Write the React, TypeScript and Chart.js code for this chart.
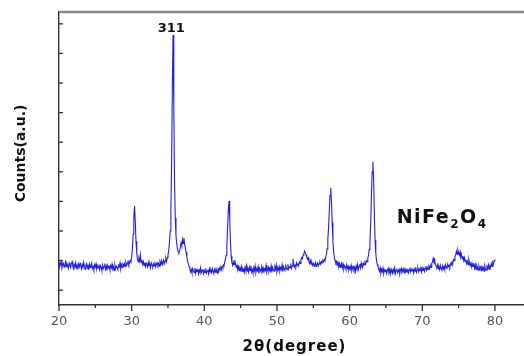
import { useEffect, useRef } from 'react';
import { Chart, registerables } from 'chart.js';

Chart.register(...registerables);

// 2θ positions (degree) of the scan, one row per degree
const twoTheta: number[] = [
  20.0, 20.1, 20.2, 20.3, 20.4, 20.5, 20.6, 20.7, 20.8, 20.9,
  21.0, 21.1, 21.2, 21.3, 21.4, 21.5, 21.6, 21.7, 21.8, 21.9,
  22.0, 22.1, 22.2, 22.3, 22.4, 22.5, 22.6, 22.7, 22.8, 22.9,
  23.0, 23.1, 23.2, 23.3, 23.4, 23.5, 23.6, 23.7, 23.8, 23.9,
  24.0, 24.1, 24.2, 24.3, 24.4, 24.5, 24.6, 24.7, 24.8, 24.9,
  25.0, 25.1, 25.2, 25.3, 25.4, 25.5, 25.6, 25.7, 25.8, 25.9,
  26.0, 26.1, 26.2, 26.3, 26.4, 26.5, 26.6, 26.7, 26.8, 26.9,
  27.0, 27.1, 27.2, 27.3, 27.4, 27.5, 27.6, 27.7, 27.8, 27.9,
  28.0, 28.1, 28.2, 28.3, 28.4, 28.5, 28.6, 28.7, 28.8, 28.9,
  29.0, 29.1, 29.2, 29.3, 29.4, 29.5, 29.6, 29.7, 29.8, 29.9,
  30.0, 30.1, 30.2, 30.3, 30.4, 30.5, 30.6, 30.7, 30.8, 30.9,
  31.0, 31.1, 31.2, 31.3, 31.4, 31.5, 31.6, 31.7, 31.8, 31.9,
  32.0, 32.1, 32.2, 32.3, 32.4, 32.5, 32.6, 32.7, 32.8, 32.9,
  33.0, 33.1, 33.2, 33.3, 33.4, 33.5, 33.6, 33.7, 33.8, 33.9,
  34.0, 34.1, 34.2, 34.3, 34.4, 34.5, 34.6, 34.7, 34.8, 34.9,
  35.0, 35.1, 35.2, 35.3, 35.4, 35.5, 35.6, 35.7, 35.8, 35.9,
  36.0, 36.1, 36.2, 36.3, 36.4, 36.5, 36.6, 36.7, 36.8, 36.9,
  37.0, 37.1, 37.2, 37.3, 37.4, 37.5, 37.6, 37.7, 37.8, 37.9,
  38.0, 38.1, 38.2, 38.3, 38.4, 38.5, 38.6, 38.7, 38.8, 38.9,
  39.0, 39.1, 39.2, 39.3, 39.4, 39.5, 39.6, 39.7, 39.8, 39.9,
  40.0, 40.1, 40.2, 40.3, 40.4, 40.5, 40.6, 40.7, 40.8, 40.9,
  41.0, 41.1, 41.2, 41.3, 41.4, 41.5, 41.6, 41.7, 41.8, 41.9,
  42.0, 42.1, 42.2, 42.3, 42.4, 42.5, 42.6, 42.7, 42.8, 42.9,
  43.0, 43.1, 43.2, 43.3, 43.4, 43.5, 43.6, 43.7, 43.8, 43.9,
  44.0, 44.1, 44.2, 44.3, 44.4, 44.5, 44.6, 44.7, 44.8, 44.9,
  45.0, 45.1, 45.2, 45.3, 45.4, 45.5, 45.6, 45.7, 45.8, 45.9,
  46.0, 46.1, 46.2, 46.3, 46.4, 46.5, 46.6, 46.7, 46.8, 46.9,
  47.0, 47.1, 47.2, 47.3, 47.4, 47.5, 47.6, 47.7, 47.8, 47.9,
  48.0, 48.1, 48.2, 48.3, 48.4, 48.5, 48.6, 48.7, 48.8, 48.9,
  49.0, 49.1, 49.2, 49.3, 49.4, 49.5, 49.6, 49.7, 49.8, 49.9,
  50.0, 50.1, 50.2, 50.3, 50.4, 50.5, 50.6, 50.7, 50.8, 50.9,
  51.0, 51.1, 51.2, 51.3, 51.4, 51.5, 51.6, 51.7, 51.8, 51.9,
  52.0, 52.1, 52.2, 52.3, 52.4, 52.5, 52.6, 52.7, 52.8, 52.9,
  53.0, 53.1, 53.2, 53.3, 53.4, 53.5, 53.6, 53.7, 53.8, 53.9,
  54.0, 54.1, 54.2, 54.3, 54.4, 54.5, 54.6, 54.7, 54.8, 54.9,
  55.0, 55.1, 55.2, 55.3, 55.4, 55.5, 55.6, 55.7, 55.8, 55.9,
  56.0, 56.1, 56.2, 56.3, 56.4, 56.5, 56.6, 56.7, 56.8, 56.9,
  57.0, 57.1, 57.2, 57.3, 57.4, 57.5, 57.6, 57.7, 57.8, 57.9,
  58.0, 58.1, 58.2, 58.3, 58.4, 58.5, 58.6, 58.7, 58.8, 58.9,
  59.0, 59.1, 59.2, 59.3, 59.4, 59.5, 59.6, 59.7, 59.8, 59.9,
  60.0, 60.1, 60.2, 60.3, 60.4, 60.5, 60.6, 60.7, 60.8, 60.9,
  61.0, 61.1, 61.2, 61.3, 61.4, 61.5, 61.6, 61.7, 61.8, 61.9,
  62.0, 62.1, 62.2, 62.3, 62.4, 62.5, 62.6, 62.7, 62.8, 62.9,
  63.0, 63.1, 63.2, 63.3, 63.4, 63.5, 63.6, 63.7, 63.8, 63.9,
  64.0, 64.1, 64.2, 64.3, 64.4, 64.5, 64.6, 64.7, 64.8, 64.9,
  65.0, 65.1, 65.2, 65.3, 65.4, 65.5, 65.6, 65.7, 65.8, 65.9,
  66.0, 66.1, 66.2, 66.3, 66.4, 66.5, 66.6, 66.7, 66.8, 66.9,
  67.0, 67.1, 67.2, 67.3, 67.4, 67.5, 67.6, 67.7, 67.8, 67.9,
  68.0, 68.1, 68.2, 68.3, 68.4, 68.5, 68.6, 68.7, 68.8, 68.9,
  69.0, 69.1, 69.2, 69.3, 69.4, 69.5, 69.6, 69.7, 69.8, 69.9,
  70.0, 70.1, 70.2, 70.3, 70.4, 70.5, 70.6, 70.7, 70.8, 70.9,
  71.0, 71.1, 71.2, 71.3, 71.4, 71.5, 71.6, 71.7, 71.8, 71.9,
  72.0, 72.1, 72.2, 72.3, 72.4, 72.5, 72.6, 72.7, 72.8, 72.9,
  73.0, 73.1, 73.2, 73.3, 73.4, 73.5, 73.6, 73.7, 73.8, 73.9,
  74.0, 74.1, 74.2, 74.3, 74.4, 74.5, 74.6, 74.7, 74.8, 74.9,
  75.0, 75.1, 75.2, 75.3, 75.4, 75.5, 75.6, 75.7, 75.8, 75.9,
  76.0, 76.1, 76.2, 76.3, 76.4, 76.5, 76.6, 76.7, 76.8, 76.9,
  77.0, 77.1, 77.2, 77.3, 77.4, 77.5, 77.6, 77.7, 77.8, 77.9,
  78.0, 78.1, 78.2, 78.3, 78.4, 78.5, 78.6, 78.7, 78.8, 78.9,
  79.0, 79.1, 79.2, 79.3, 79.4, 79.5, 79.6, 79.7, 79.8, 79.9,
  80.0,
];

// Intensity (arbitrary units), one value per 2θ position above
const counts: number[] = [
  94, 80, 88, 97, 76, 86, 91, 78, 84, 95,
  79, 90, 83, 74, 92, 85, 77, 89, 96, 81,
  73, 87, 82, 93, 76, 84, 70, 88, 79, 91,
  84, 72, 86, 78, 94, 80, 71, 85, 90, 76,
  83, 69, 88, 77, 82, 91, 74, 80, 68, 86,
  78, 89, 72, 81, 75, 87, 70, 83, 77, 66,
  85, 73, 79, 90, 71, 82, 67, 84, 76, 80,
  69, 83, 75, 88, 72, 78, 66, 86, 74, 81,
  77, 70, 84, 79, 92, 73, 85, 78, 88, 82,
  90, 79, 94, 84, 88, 97, 86, 92, 100, 95,
  112, 140, 190, 250, 284, 230, 165, 125, 104, 96,
  108, 98, 120, 94, 102, 88, 97, 84, 93, 80,
  91, 86, 78, 94, 83, 88, 76, 92, 85, 80,
  89, 82, 95, 79, 87, 93, 84, 90, 81, 96,
  88, 99, 85, 94, 102, 90, 98, 107, 96, 110,
  118, 135, 160, 200, 270, 430, 690, 862, 620, 370,
  245, 185, 158, 140, 130, 126, 132, 145, 160, 150,
  172, 158, 176, 155, 142, 128, 112, 98, 88, 80,
  74, 62, 70, 58, 73, 66, 60, 75, 57, 69,
  63, 72, 55, 68, 61, 76, 59, 66, 71, 56,
  67, 60, 74, 58, 65, 70, 55, 72, 62, 68,
  59, 73, 64, 57, 70, 61, 76, 63, 58, 72,
  66, 75, 69, 80, 72, 78, 85, 82, 94, 104,
  118, 150, 210, 270, 301, 240, 160, 115, 92, 84,
  95, 86, 102, 88, 78, 84, 70, 79, 66, 75,
  68, 80, 63, 74, 70, 60, 77, 66, 82, 64,
  72, 61, 78, 67, 83, 62, 70, 58, 76, 65,
  81, 60, 71, 66, 79, 57, 74, 68, 62, 80,
  64, 75, 59, 72, 67, 84, 61, 70, 78, 63,
  73, 66, 82, 60, 77, 69, 64, 79, 71, 85,
  62, 74, 68, 80, 65, 76, 70, 86, 63, 78,
  71, 67, 83, 74, 69, 88, 72, 79, 76, 90,
  74, 82, 106, 88, 78, 85, 80, 92, 84, 88,
  86, 95, 90, 102, 110, 106, 118, 124, 132, 126,
  120, 112, 104, 110, 98, 92, 100, 88, 94, 84,
  90, 81, 87, 94, 80, 86, 92, 83, 89, 95,
  88, 97, 92, 100, 96, 104, 99, 112, 120, 140,
  170, 210, 270, 320, 345, 300, 230, 165, 130, 110,
  100, 92, 97, 86, 94, 80, 90, 77, 85, 92,
  76, 88, 72, 83, 79, 70, 86, 74, 81, 68,
  78, 71, 84, 66, 75, 80, 69, 77, 64, 82,
  72, 86, 70, 80, 88, 75, 92, 82, 78, 90,
  86, 94, 88, 100, 96, 108, 118, 138, 165, 225,
  320, 400, 433, 380, 260, 170, 125, 100, 88, 80,
  72, 64, 76, 58, 70, 62, 74, 57, 68, 63,
  71, 56, 66, 74, 60, 69, 55, 72, 63, 58,
  70, 61, 75, 57, 67, 73, 59, 64, 71, 56,
  68, 74, 60, 66, 72, 58, 76, 63, 69, 61,
  73, 59, 67, 77, 62, 70, 65, 74, 58, 71,
  64, 78, 61, 69, 75, 63, 72, 66, 80, 62,
  74, 67, 79, 64, 72, 82, 68, 76, 70, 80,
  73, 84, 77, 90, 96, 108, 98, 104, 88, 82,
  78, 86, 72, 80, 70, 84, 74, 68, 82, 72,
  80, 70, 86, 76, 74, 88, 79, 84, 78, 90,
  86, 96, 92, 104, 100, 114, 120, 132, 122, 136,
  126, 118, 130, 112, 120, 106, 115, 100, 110, 96,
  104, 90, 98, 86, 104, 92, 82, 96, 78, 88,
  80, 92, 74, 86, 70, 84, 76, 68, 82, 72,
  78, 66, 84, 70, 76, 64, 82, 72, 68, 80,
  74, 86, 70, 82, 78, 90, 80, 94, 88, 100,
  104,
];

const xMajorTicks = [20, 30, 40, 50, 60, 70, 80];
const xMinorTicks = [25, 35, 45, 55, 65, 75];
const yTicks = [0, 100, 200, 300, 400, 500, 600, 700, 800, 900];

const peakLabel = { text: '311', x: 35.45, y: 873 };
const phaseLabel = { parts: ['NiFe', '2', 'O', '4'], x: 66.48, y: 226 };
const xTitle = '2θ(degree)';
const yTitle = 'Counts(a.u.)';

export default function App() {
  const ref = useRef<HTMLCanvasElement>(null);

  useEffect(() => {
    document.body.style.margin = '0';
    const canvas = ref.current;
    if (!canvas) return;

    const n = Math.min(twoTheta.length, counts.length);
    const points = [];
    for (let i = 0; i < n; i++) points.push({ x: twoTheta[i], y: counts[i] });

    const decor = {
      id: 'decor',
      afterDraw(chart: any) {
        const { ctx, chartArea: a, scales } = chart;
        const xs = scales.x;
        const ys = scales.y;
        ctx.save();
        // top frame
        ctx.strokeStyle = '#8c8c8c';
        ctx.lineWidth = 2.5;
        ctx.beginPath();
        ctx.moveTo(a.left, a.top);
        ctx.lineTo(a.right, a.top);
        ctx.stroke();

        ctx.strokeStyle = '#333';
        ctx.lineWidth = 1.3;
        const seg = (x1: number, y1: number, x2: number, y2: number) => {
          ctx.beginPath();
          ctx.moveTo(x1, y1);
          ctx.lineTo(x2, y2);
          ctx.stroke();
        };
        xMajorTicks.forEach((v) => {
          const px = xs.getPixelForValue(v);
          seg(px, a.bottom, px, a.bottom + 6);
        });
        xMinorTicks.forEach((v) => {
          const px = xs.getPixelForValue(v);
          seg(px, a.bottom, px, a.bottom + 3);
        });
        yTicks.forEach((v) => {
          const py = ys.getPixelForValue(v);
          seg(a.left, py, a.left + 4, py);
        });

        ctx.fillStyle = '#111';
        // peak label
        ctx.font = 'bold 13px "DejaVu Sans"';
        ctx.textAlign = 'center';
        ctx.textBaseline = 'alphabetic';
        ctx.fillText(peakLabel.text, xs.getPixelForValue(peakLabel.x), ys.getPixelForValue(peakLabel.y));

        // phase label with subscripts
        ctx.textAlign = 'left';
        let cx = xs.getPixelForValue(phaseLabel.x);
        const by = ys.getPixelForValue(phaseLabel.y);
        (ctx as any).letterSpacing = '1.5px';
        phaseLabel.parts.forEach((p, i) => {
          const sub = i % 2 === 1;
          ctx.font = sub ? 'bold 12px "DejaVu Sans"' : 'bold 19px "DejaVu Sans"';
          ctx.fillText(p, cx, sub ? by + 5 : by);
          cx += ctx.measureText(p).width;
        });

        // axis titles
        (ctx as any).letterSpacing = '1px';
        ctx.font = 'bold 15px "DejaVu Sans"';
        ctx.textAlign = 'center';
        ctx.fillText(xTitle, (a.left + a.right) / 2 + 3, 350.5);

        (ctx as any).letterSpacing = '0px';
        ctx.font = 'bold 14px "DejaVu Sans"';
        ctx.translate(21, 153.5);
        ctx.rotate(-Math.PI / 2);
        ctx.textBaseline = 'middle';
        ctx.fillText(yTitle, 0, 0);
        ctx.restore();
      },
    };

    const chart = new Chart(canvas, {
      type: 'line',
      data: {
        datasets: [
          {
            data: points,
            borderColor: 'rgb(32, 32, 228)',
            borderWidth: 1.1,
            pointRadius: 0,
            tension: 0,
            fill: false,
          },
        ],
      },
      options: {
        animation: false,
        responsive: false,
        events: [],
        layout: { padding: { top: 12, right: 0, left: 0, bottom: 0 } },
        plugins: { legend: { display: false }, tooltip: { enabled: false } },
        scales: {
          x: {
            type: 'linear',
            min: 20,
            max: 84,
            afterFit: (s: any) => {
              s.height = 51;
            },
            grid: { display: false, drawTicks: false },
            border: { display: true, color: '#333', width: 1.4 },
            ticks: {
              stepSize: 10,
              includeBounds: false,
              maxRotation: 0,
              padding: 9,
              color: '#555',
              font: { family: 'DejaVu Sans', size: 13 },
              callback: (v: any) => (Number(v) % 10 === 0 && Number(v) <= 80 ? String(v) : ''),
            },
          },
          y: {
            type: 'linear',
            min: -50,
            max: 940,
            afterFit: (s: any) => {
              s.width = 59;
            },
            grid: { display: false, drawTicks: false },
            border: { display: true, color: '#333', width: 1.4 },
            ticks: { display: false },
          },
        },
      },
      plugins: [decor],
    });

    return () => chart.destroy();
  }, []);

  return (
    <div style={{ width: 524, height: 356, background: '#fff' }}>
      <canvas ref={ref} width={524} height={356} style={{ display: 'block' }} />
    </div>
  );
}
